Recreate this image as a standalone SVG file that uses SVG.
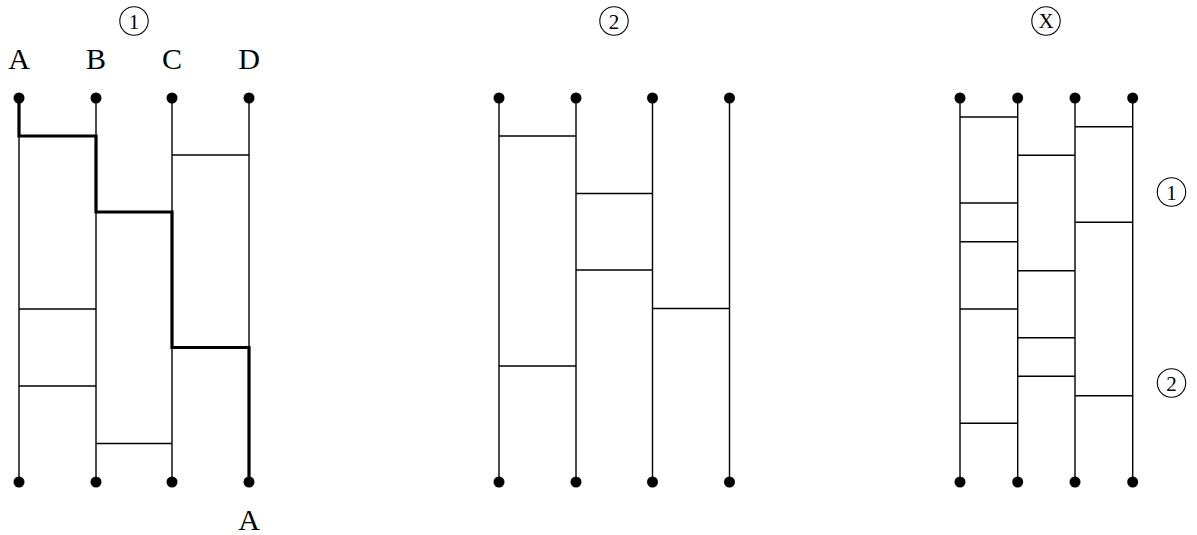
<svg xmlns="http://www.w3.org/2000/svg" width="1197" height="535" viewBox="0 0 1197 535">
<style>
.rail{stroke:#000;stroke-width:1.4;fill:none}
.rung{stroke:#000;stroke-width:1.4;fill:none}
.path{stroke:#000;stroke-width:3.2;fill:none;stroke-linejoin:miter;stroke-linecap:butt}
.dot{fill:#000}
.circ{fill:none;stroke:#000;stroke-width:1.1}
.lbl{font-family:"Liberation Serif","Times New Roman",serif;font-size:30px;fill:#000;text-anchor:middle}
.num{font-family:"Liberation Serif","Times New Roman",serif;font-size:21px;fill:#000;text-anchor:middle}
</style>
<rect width="1197" height="535" fill="#fff"/>

<g id="title1"><circle class="circ" cx="134" cy="21" r="14.2"/><text class="num" x="134" y="28.5">1</text></g>
<g id="title2"><circle class="circ" cx="614" cy="21" r="14.2"/><text class="num" x="614" y="28.5">2</text></g>
<g id="titleX"><circle class="circ" cx="1046" cy="21" r="14.2"/><text class="num" x="1046" y="28" font-size="19">X</text></g>
<g id="side1"><circle class="circ" cx="1171.5" cy="192" r="14.2"/><text class="num" x="1171.5" y="199.5">1</text></g>
<g id="side2"><circle class="circ" cx="1171.5" cy="383" r="14.2"/><text class="num" x="1171.5" y="390.5">2</text></g>

<g id="labels">
<text class="lbl" x="19" y="68.5">A</text>
<text class="lbl" x="96" y="68.5">B</text>
<text class="lbl" x="172" y="68.5">C</text>
<text class="lbl" x="249" y="68.5">D</text>
<text class="lbl" x="249" y="529.5">A</text>
</g>

<g id="ladder1">
<line class="rail" x1="19" y1="98" x2="19" y2="482"/>
<line class="rail" x1="96" y1="98" x2="96" y2="482"/>
<line class="rail" x1="172" y1="98" x2="172" y2="482"/>
<line class="rail" x1="249" y1="98" x2="249" y2="482"/>
<line class="rung" x1="172" y1="155" x2="249" y2="155"/>
<line class="rung" x1="19" y1="309" x2="96" y2="309"/>
<line class="rung" x1="19" y1="386" x2="96" y2="386"/>
<line class="rung" x1="96" y1="443.5" x2="172" y2="443.5"/>
<path class="path" d="M19,98 V136 H96 V212 H172 V347.5 H249 V482"/>
<circle class="dot" cx="19" cy="98" r="5.5"/><circle class="dot" cx="96" cy="98" r="5.5"/><circle class="dot" cx="172" cy="98" r="5.5"/><circle class="dot" cx="249" cy="98" r="5.5"/>
<circle class="dot" cx="19" cy="482" r="5.5"/><circle class="dot" cx="96" cy="482" r="5.5"/><circle class="dot" cx="172" cy="482" r="5.5"/><circle class="dot" cx="249" cy="482" r="5.5"/>
</g>

<g id="ladder2">
<line class="rail" x1="499" y1="98" x2="499" y2="482"/>
<line class="rail" x1="576" y1="98" x2="576" y2="482"/>
<line class="rail" x1="652.5" y1="98" x2="652.5" y2="482"/>
<line class="rail" x1="729.5" y1="98" x2="729.5" y2="482"/>
<line class="rung" x1="499" y1="136" x2="576" y2="136"/>
<line class="rung" x1="576" y1="193.5" x2="652.5" y2="193.5"/>
<line class="rung" x1="576" y1="270" x2="652.5" y2="270"/>
<line class="rung" x1="652.5" y1="308.5" x2="729.5" y2="308.5"/>
<line class="rung" x1="499" y1="366" x2="576" y2="366"/>
<circle class="dot" cx="499" cy="98" r="5.5"/><circle class="dot" cx="576" cy="98" r="5.5"/><circle class="dot" cx="652.5" cy="98" r="5.5"/><circle class="dot" cx="729.5" cy="98" r="5.5"/>
<circle class="dot" cx="499" cy="482" r="5.5"/><circle class="dot" cx="576" cy="482" r="5.5"/><circle class="dot" cx="652.5" cy="482" r="5.5"/><circle class="dot" cx="729.5" cy="482" r="5.5"/>
</g>

<g id="ladderX">
<line class="rail" x1="960" y1="98" x2="960" y2="482"/>
<line class="rail" x1="1017.7" y1="98" x2="1017.7" y2="482"/>
<line class="rail" x1="1075" y1="98" x2="1075" y2="482"/>
<line class="rail" x1="1132.7" y1="98" x2="1132.7" y2="482"/>
<line class="rung" x1="960" y1="117" x2="1017.7" y2="117"/>
<line class="rung" x1="1075" y1="126.7" x2="1132.7" y2="126.7"/>
<line class="rung" x1="1017.7" y1="155.3" x2="1075" y2="155.3"/>
<line class="rung" x1="960" y1="203" x2="1017.7" y2="203"/>
<line class="rung" x1="1075" y1="222.3" x2="1132.7" y2="222.3"/>
<line class="rung" x1="960" y1="241.7" x2="1017.7" y2="241.7"/>
<line class="rung" x1="1017.7" y1="270.7" x2="1075" y2="270.7"/>
<line class="rung" x1="960" y1="309" x2="1017.7" y2="309"/>
<line class="rung" x1="1017.7" y1="337.7" x2="1075" y2="337.7"/>
<line class="rung" x1="1017.7" y1="376.3" x2="1075" y2="376.3"/>
<line class="rung" x1="1075" y1="395.7" x2="1132.7" y2="395.7"/>
<line class="rung" x1="960" y1="423.3" x2="1017.7" y2="423.3"/>
<circle class="dot" cx="960" cy="98" r="5.5"/><circle class="dot" cx="1017.7" cy="98" r="5.5"/><circle class="dot" cx="1075" cy="98" r="5.5"/><circle class="dot" cx="1132.7" cy="98" r="5.5"/>
<circle class="dot" cx="960" cy="482" r="5.5"/><circle class="dot" cx="1017.7" cy="482" r="5.5"/><circle class="dot" cx="1075" cy="482" r="5.5"/><circle class="dot" cx="1132.7" cy="482" r="5.5"/>
</g>
</svg>
